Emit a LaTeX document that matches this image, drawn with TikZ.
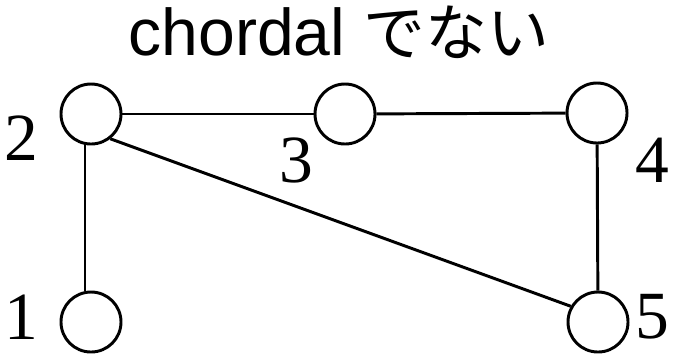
\documentclass[tikz,border=0pt]{standalone}
\usepackage{fontspec}
\setmainfont{Liberation Serif}
\newfontfamily\titlefont{Liberation Sans}
\newfontfamily\jpfont{Noto Sans CJK JP}
\usetikzlibrary{positioning}
\tikzset{
    vtx/.style = {draw, circle, line width=2.1pt, minimum size=1.5cm, inner sep=0pt},
    vlabel/.style = {font=\fontsize{48}{48}\selectfont, inner sep=0pt, anchor=base},
    edge/.style = {line width=2.1pt},
}
\begin{document}
\begin{tikzpicture}[x=0.025cm, y=-0.025cm]
\useasboundingbox (0,0) rectangle (674,358);

% Title
\node[anchor=base, inner sep=0pt, font=\fontsize{47}{47}\selectfont] (title) at (339,55)
    {\titlefont chordal {\jpfont\fontsize{44}{44}\selectfont でない}};

% Vertices
\node[vtx] (v1) at (91,322) {};
\node[vtx] (v2) at (91,114) {};
\node[vtx] (v3) at (345,114) {};
\node[vtx] (v4) at (597,113) {};
\node[vtx] (v5) at (598,322) {};

% Vertex numbers
\node[vlabel] (l1) at (21,339) {1};
\node[vlabel] (l2) at (21,160) {2};
\node[vlabel] (l3) at (296,182) {3};
\node[vlabel] (l4) at (652,182) {4};
\node[vlabel] (l5) at (652,338) {5};

% Edges
\draw[edge] (v2) -- (v3);
\draw[edge] (v3) -- (v4);
\draw[edge] (v2.-101) -- (v1.101);
\draw[edge] (v4) -- (v5);
\draw[edge] (v2.-52) -- (v5.150);

\end{tikzpicture}
\end{document}
